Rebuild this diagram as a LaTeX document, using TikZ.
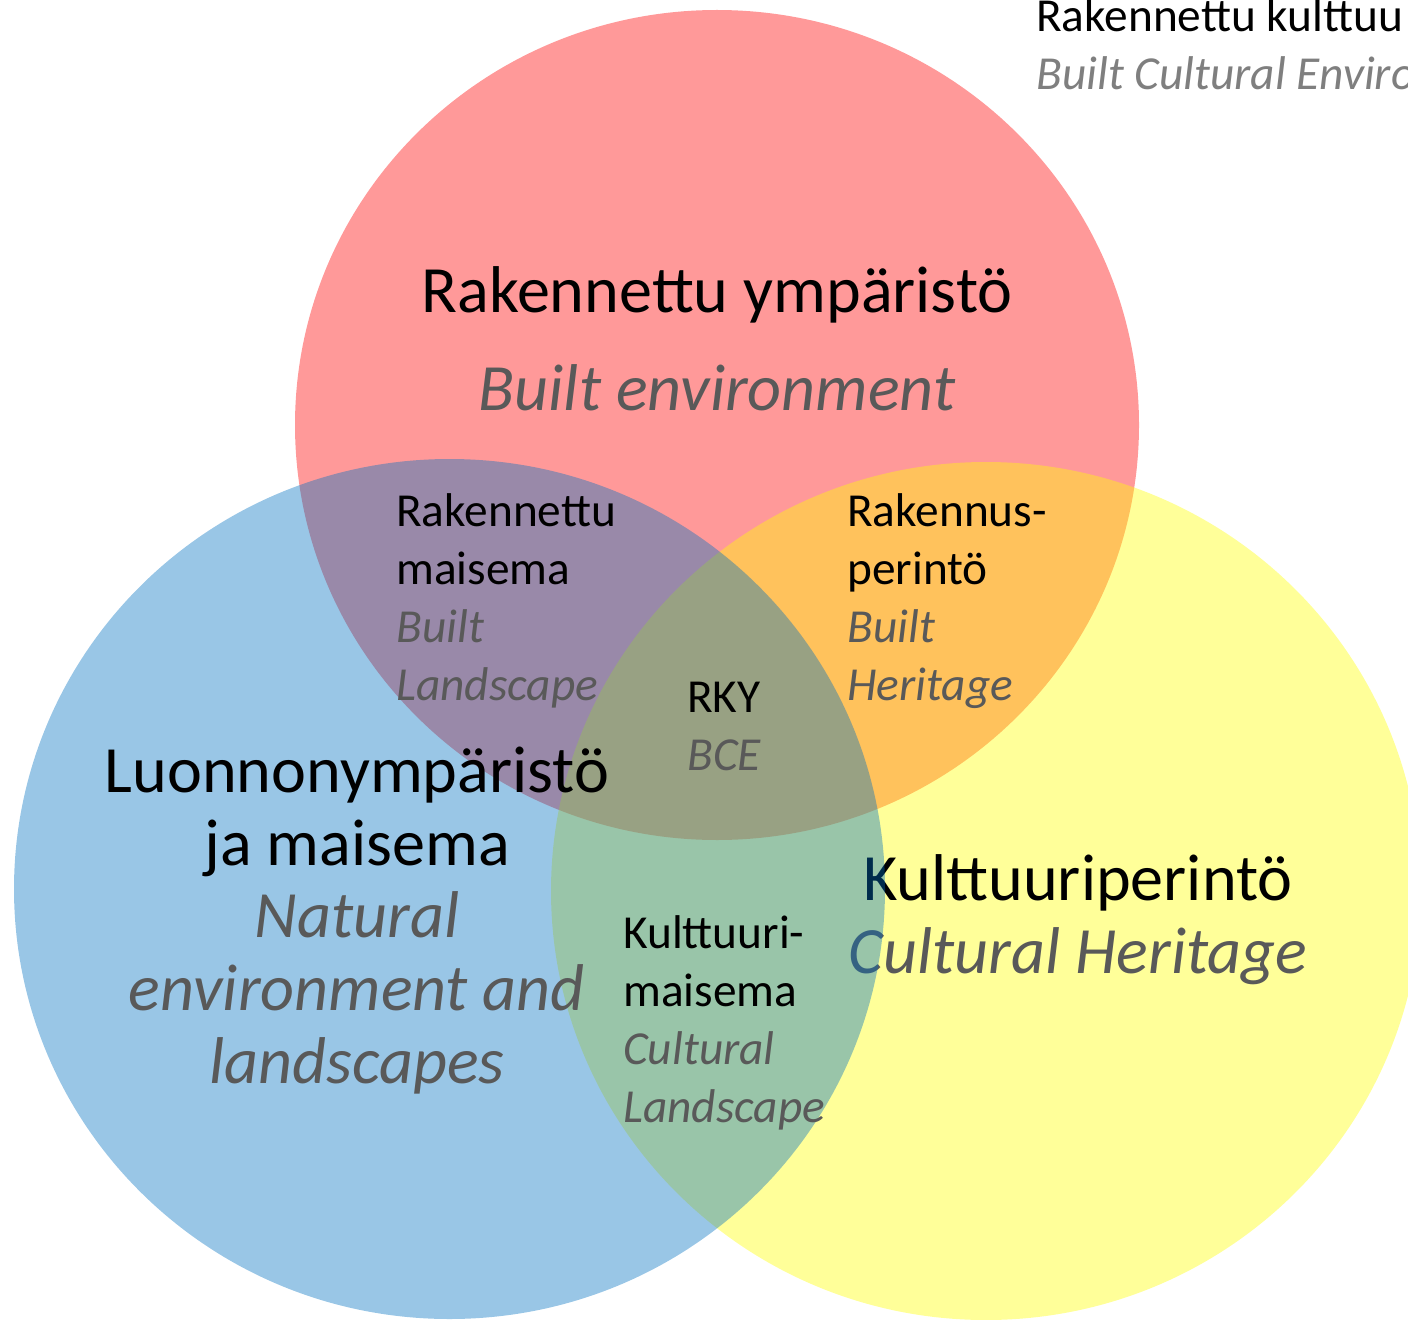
\documentclass[tikz,border=0pt]{standalone}
\usepackage{fontspec}
\setmainfont{Carlito}
\usepackage{tikz}
\definecolor{builtred}{RGB}{255,0,0}
\definecolor{heritageyellow}{RGB}{255,255,0}
\definecolor{naturalblue}{RGB}{0,112,192}
\definecolor{engrey}{RGB}{89,89,89}
\definecolor{notegrey}{RGB}{127,127,127}
\newcommand{\engl}[1]{{\color{engrey}\itshape #1}}

\begin{document}
\begin{tikzpicture}[
  x=0.75pt, y=-0.75pt,
  set/.style={fill opacity=0.4},
  big/.style={inner sep=0pt, align=center, anchor=base, font=\fontsize{49.6}{54.5}\selectfont},
  small/.style={inner sep=0pt, align=left, anchor=base west, font=\fontsize{35.5}{43.5}\selectfont}
]
\useasboundingbox (0,0) rectangle (1408,1319);
\clip (0,0) rectangle (1408,1319);

% built environment
\fill[set, builtred] (717,425) ellipse [x radius=422, y radius=415];
\node[big] (builtfi) at (717,312) {Rakennettu ympäristö};
\node[big] (builten) at (717,410) {\engl{Built environment}};

% cultural heritage (base = last line)
\fill[set, heritageyellow] (986,891) ellipse [x radius=435, y radius=429];
\node[big] (heritage) at (1078,973) {Kulttuuriperintö\\\engl{Cultural Heritage}};

% natural environment
\fill[set, naturalblue] (449.5,889) ellipse [x radius=435.5, y radius=430];
\node[big] (natural) at (357,1083) {Luonnonympäristö\\ja maisema\\\engl{Natural}\\\engl{environment and}\\\engl{landscapes}};

% overlaps
\node[small] (builtland) at (396,700) {Rakennettu\\maisema\\\engl{Built}\\\engl{Landscape}};
\node[small] (builtheri) at (847,700) {Rakennus-\\perintö\\\engl{Built}\\\engl{Heritage}};
\node[small] (rky) at (687,770) {RKY\\\engl{BCE}};
\node[small] (cultland) at (623,1122) {Kulttuuri-\\maisema\\\engl{Cultural}\\\engl{Landscape}};

\node[small] (note) at (1036,90) {Rakennettu kulttuu\\{\color{notegrey}\itshape Built Cultural Enviro}};
\end{tikzpicture}
\end{document}
